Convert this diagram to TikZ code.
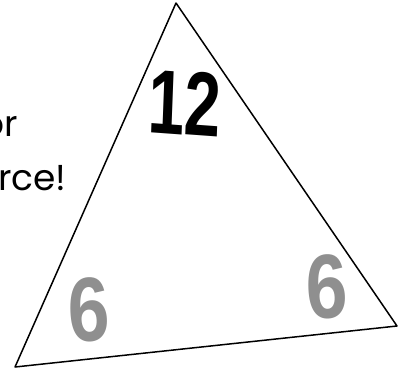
\documentclass[tikz,border=0pt]{standalone}
\usepackage{fontspec}
\setmainfont{Poppins}
\newfontfamily\numfont{Liberation Sans}[BoldFont={* Bold}]
\definecolor{numgray}{HTML}{8F8F8F}

\begin{document}
\begin{tikzpicture}[
    x=1pt,y=1pt,
    words/.style={font=\fontsize{36}{44}\selectfont,inner sep=0pt,anchor=base west},
    num/.style={font=\numfont\bfseries\fontsize{91}{91}\selectfont,inner sep=0pt,transform shape},
    big/.style={num,xscale=0.72,rotate=-3},
    small/.style={num,xscale=0.82,color=numgray,rotate=3},
    edge/.style={draw,line width=1.5pt,line join=round},
  ]
    \useasboundingbox (0,0) rectangle (398,368);
    % triangle corners
    \coordinate (apex)  at (176,365);
    \coordinate (left)  at (15,1);
    \coordinate (right) at (397,42);
    \path[edge] (apex) -- (left) -- (right) -- cycle;

    \node[words] (or)  at (-19,232) {or};
    \node[words] (rce) at (-2,178) {rce!};

    \node[big] (top) at (185,265) {12};
    \node[small] (sixl) at (89,58) {6};
    \node[small] (sixr) at (327,81) {6};
  \end{tikzpicture}
\end{document}
